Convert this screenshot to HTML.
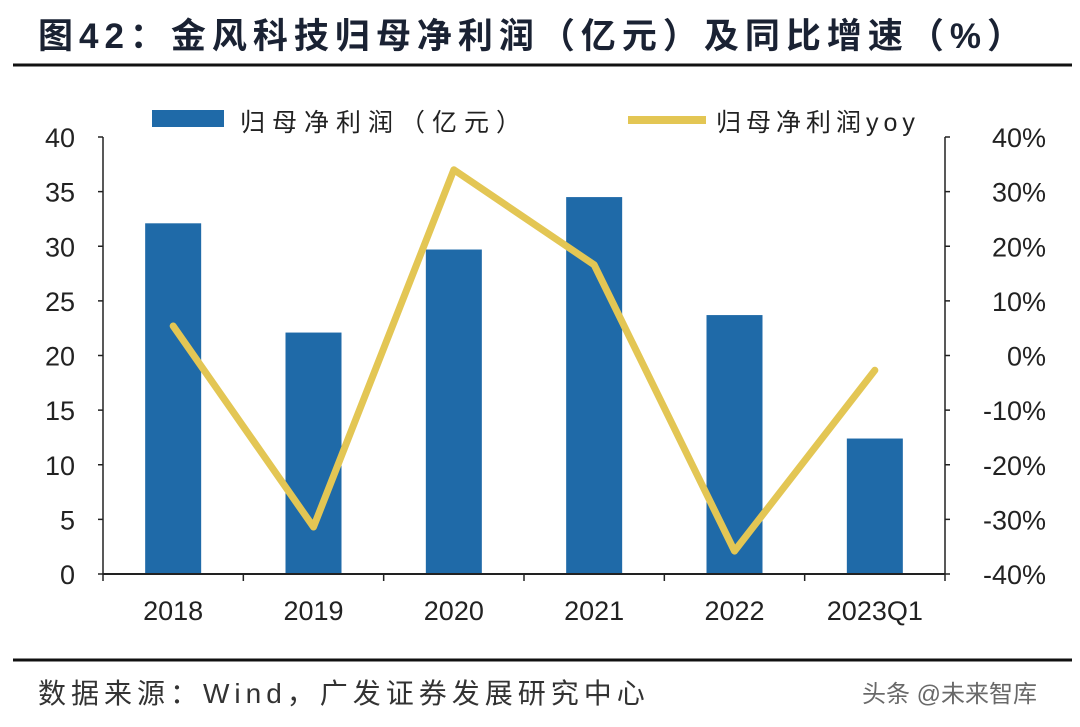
<!DOCTYPE html>
<html><head><meta charset="utf-8"><style>
body{margin:0;background:#fff;}
svg text{font-family:"Liberation Sans","Noto Sans CJK SC",sans-serif;}
</style></head><body>
<svg id="c" width="1080" height="722" xmlns="http://www.w3.org/2000/svg">
<text x="38" y="48" font-size="35" font-weight="bold" fill="#1a2233" letter-spacing="6">图42：金风科技归母净利润（亿元）及同比增速（%）</text>
<line x1="13" y1="65" x2="1072" y2="65" stroke="#111" stroke-width="3"/>
<rect x="152" y="110" width="72" height="17" fill="#1f6aa8"/>
<text x="240" y="131" font-size="25" fill="#222" letter-spacing="7">归母净利润（亿元）</text>
<line x1="628" y1="120" x2="706" y2="120" stroke="#e3c654" stroke-width="8"/>
<text x="716" y="131" font-size="25" fill="#222" letter-spacing="5">归母净利润yoy</text>
<g id="plot"></g>
<line x1="13" y1="660" x2="1072" y2="660" stroke="#111" stroke-width="3"/>
<text x="38" y="703" font-size="28" fill="#333" letter-spacing="5">数据来源：Wind，广发证券发展研究中心</text>
<text x="862" y="702" font-size="24" fill="#444" opacity="0.8">头条 @未来智库</text>
</svg>
<script>
const categories=["2018","2019","2020","2021","2022","2023Q1"];
const profit=[32.1,22.1,29.7,34.5,23.7,12.4];
const yoy=[5.4,-31.4,34.0,16.6,-35.8,-2.7];
const leftTicks=[0,5,10,15,20,25,30,35,40];
const rightTicks=[-40,-30,-20,-10,0,10,20,30,40];
const X0=103,X1=945,Y0=574,Y1=137;
const band=(X1-X0)/categories.length;
const xc=i=>X0+band*(i+0.5);
const yL=v=>Y0-(v/40)*(Y0-Y1);
const yR=v=>Y0-((v+40)/80)*(Y0-Y1);
const NS="http://www.w3.org/2000/svg",g=document.getElementById('plot');
function mk(t,a){const e=document.createElementNS(NS,t);for(const k in a)e.setAttribute(k,a[k]);g.appendChild(e);return e;}
profit.forEach((v,i)=>{const r=mk('rect',{x:xc(i)-28,y:yL(v),width:56,height:Y0-yL(v),fill:'#1f6aa8'});

});
let ax=mk('line',{x1:X0,y1:Y0,x2:X1,y2:Y0,stroke:'#222','stroke-width':2});


for(let i=0;i<=categories.length;i++){const t=mk('line',{x1:X0+band*i,y1:Y0,x2:X0+band*i,y2:Y0+7,stroke:'#222','stroke-width':1.5});

}
categories.forEach((c,i)=>{const t=mk('text',{x:xc(i),y:620,'font-size':27,'text-anchor':'middle',fill:'#222'});t.textContent=c;

});
leftTicks.forEach(v=>{const t=mk('text',{x:75,y:yL(v)+10,'font-size':27,'text-anchor':'end',fill:'#222'});t.textContent=v;


const m=mk('line',{x1:X0-5,y1:yL(v),x2:X0,y2:yL(v),stroke:'#222','stroke-width':1.5});

});
let la=mk('line',{x1:X0,y1:Y1,x2:X0,y2:Y0,stroke:'#222','stroke-width':1.5});


let ra=mk('line',{x1:X1,y1:Y1,x2:X1,y2:Y0,stroke:'#222','stroke-width':1.5});


rightTicks.forEach(v=>{const t=mk('text',{x:1046,y:yR(v)+10,'font-size':27,'text-anchor':'end',fill:'#222'});t.textContent=v+'%';


const m=mk('line',{x1:X1,y1:yR(v),x2:X1+5,y2:yR(v),stroke:'#222','stroke-width':1.5});

});
const pl=mk('polyline',{points:yoy.map((v,i)=>xc(i)+','+yR(v)).join(' '),fill:'none',stroke:'#e3c654','stroke-width':7,'stroke-linejoin':'round','stroke-linecap':'round'});


</script>
</body></html>
